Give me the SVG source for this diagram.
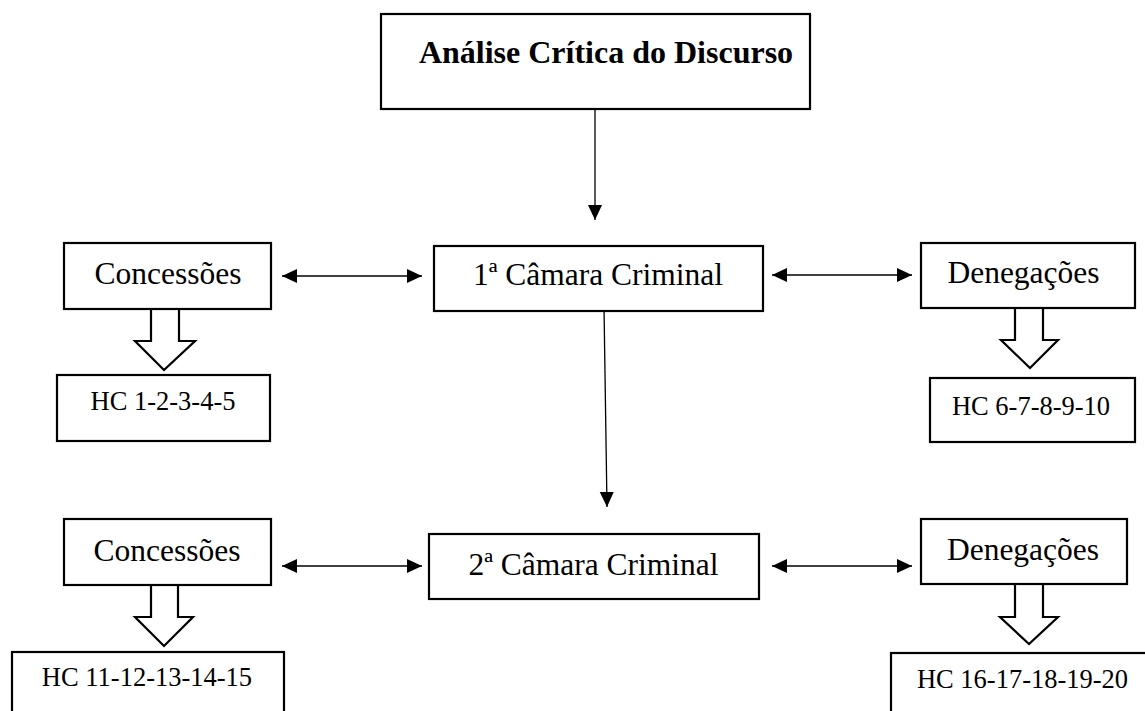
<svg xmlns="http://www.w3.org/2000/svg" width="1145" height="711" viewBox="0 0 1145 711">
<style>
.box{fill:#fff;stroke:#000;stroke-width:2.2}
.blk{fill:#fff;stroke:#000;stroke-width:2.2;stroke-linejoin:miter}
.t{font-family:"Liberation Serif","Times New Roman",serif;fill:#000;text-anchor:middle}
.big{font-size:31.5px}
.hc{font-size:26.5px}
.title{font-size:32px;font-weight:bold}
.con{fill:none;stroke:#000;stroke-width:1.3}
</style>
<defs>
<marker id="ah" markerUnits="userSpaceOnUse" markerWidth="16" markerHeight="16" viewBox="0 0 16 16" refX="15" refY="8" orient="auto-start-reverse">
<path d="M0,1 L15,8 L0,15 Z" fill="#000"/>
</marker>
</defs>
<rect width="1145" height="711" fill="#fff"/>
<g id="connectors">
<line class="con" x1="595" y1="109" x2="595" y2="220" marker-end="url(#ah)"/>
<line class="con" x1="604" y1="307" x2="607" y2="507" marker-end="url(#ah)"/>
<line class="con" x1="282" y1="276" x2="422" y2="276" marker-start="url(#ah)" marker-end="url(#ah)"/>
<line class="con" x1="772" y1="275" x2="912" y2="275" marker-start="url(#ah)" marker-end="url(#ah)"/>
<line class="con" x1="282" y1="566" x2="422" y2="566" marker-start="url(#ah)" marker-end="url(#ah)"/>
<line class="con" x1="772" y1="566" x2="912" y2="566" marker-start="url(#ah)" marker-end="url(#ah)"/>
<path class="blk" d="M151,309 L179,309 L179,341 L195,341 L164,370 L135,341 L151,341 Z"/>
<path class="blk" d="M1015,308 L1043,308 L1043,340 L1058,340 L1030,368 L1001,340 L1015,340 Z"/>
<path class="blk" d="M151,585 L178,585 L178,617 L193,617 L164,646 L135,617 L151,617 Z"/>
<path class="blk" d="M1015,584 L1043,584 L1043,617 L1058,617 L1029,644 L1000,617 L1015,617 Z"/>
</g>
<g id="n-acd">
<rect class="box" x="381" y="14" width="429" height="95"/>
<text class="t title" x="606" y="63">Análise Crítica do Discurso</text>
</g>
<g id="n-c1">
<rect class="box" x="64" y="243" width="207" height="66"/>
<text class="t big" x="168" y="284">Concessões</text>
</g>
<g id="n-cam1">
<rect class="box" x="434" y="246" width="329" height="65"/>
<text class="t big" x="598" y="285">1ª Câmara Criminal</text>
</g>
<g id="n-d1">
<rect class="box" x="921" y="243" width="214" height="65"/>
<text class="t big" x="1023.5" y="283">Denegações</text>
</g>
<g id="n-hc1">
<rect class="box" x="57" y="375" width="213" height="66"/>
<text class="t hc" x="163" y="410">HC 1-2-3-4-5</text>
</g>
<g id="n-hc2">
<rect class="box" x="930" y="378" width="205" height="64"/>
<text class="t hc" x="1031" y="415">HC 6-7-8-9-10</text>
</g>
<g id="n-c2">
<rect class="box" x="64" y="519" width="207" height="66"/>
<text class="t big" x="167" y="561">Concessões</text>
</g>
<g id="n-cam2">
<rect class="box" x="429" y="534" width="330" height="65"/>
<text class="t big" x="593.5" y="575">2ª Câmara Criminal</text>
</g>
<g id="n-d2">
<rect class="box" x="921" y="519" width="206" height="65"/>
<text class="t big" x="1023" y="560">Denegações</text>
</g>
<g id="n-hc3">
<rect class="box" x="12" y="652" width="272" height="70"/>
<text class="t hc" x="147" y="686">HC 11-12-13-14-15</text>
</g>
<g id="n-hc4">
<rect class="box" x="891" y="653" width="270" height="70"/>
<text class="t hc" x="1022.5" y="688">HC 16-17-18-19-20</text>
</g>
</svg>
